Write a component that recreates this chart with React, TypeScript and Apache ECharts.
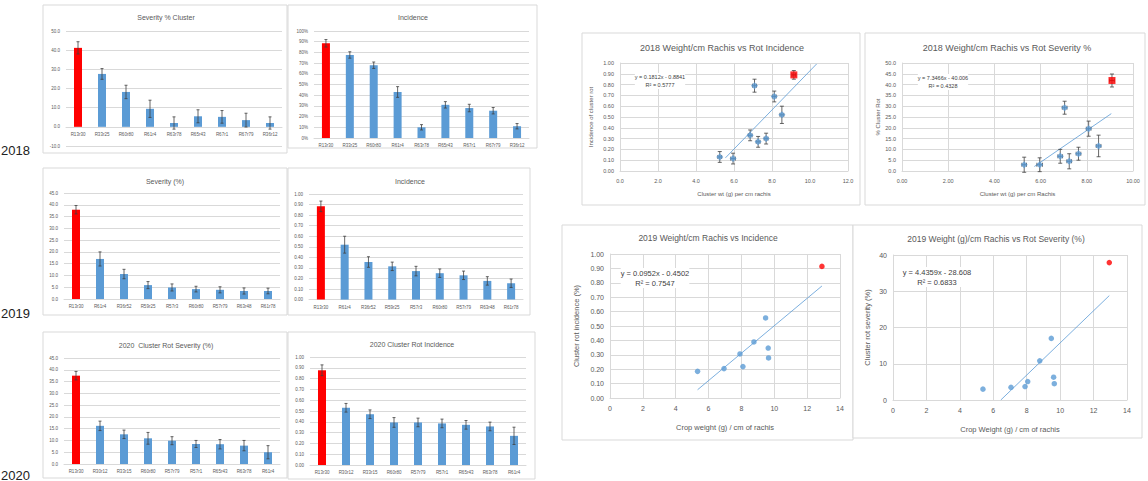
import React, { useEffect, useRef } from "react";
import * as echarts from "echarts";

// ---------- DATA ----------
const sev18Cats = ["R13r30", "R33r25", "R60r80", "R61r4", "R63r78", "R65r43", "R67r1", "R67r79", "R36r12"];
const sev18Vals = [41.2, 27.6, 18.2, 9.4, 2.0, 5.5, 5.2, 3.5, 2.0];
const sev18Errs = [3.2, 2.8, 3.5, 4.5, 3.2, 3.4, 3.3, 3.6, 3.2];

const inc18Cats = ["R13r30", "R33r25", "R60r80", "R61r4", "R63r78", "R65r43", "R67r1", "R67r79", "R36r12"];
const inc18Vals = [88.5, 77.6, 68, 43, 10, 31, 28, 25.5, 11];
const inc18Errs = [3.5, 3, 3, 5, 2.5, 3, 3.5, 3, 2.5];

const sev19Cats = ["R13r30", "R61r4", "R36r52", "R59r25", "R57r3", "R60r80", "R57r79", "R63r48", "R61r78"];
const sev19Vals = [37.9, 17.0, 10.6, 5.9, 4.9, 4.2, 3.9, 3.4, 3.4];
const sev19Errs = [1.8, 3.0, 2.0, 1.5, 1.5, 1.2, 1.3, 1.3, 1.2];

const inc19Cats = ["R13r30", "R61r4", "R36r52", "R59r25", "R57r3", "R60r80", "R57r79", "R63r48", "R61r78"];
const inc19Vals = [0.883, 0.52, 0.356, 0.315, 0.27, 0.25, 0.23, 0.177, 0.155];
const inc19Errs = [0.05, 0.08, 0.05, 0.04, 0.045, 0.04, 0.04, 0.04, 0.04];

const sev20Cats = ["R13r30", "R30r12", "R33r15", "R60r80", "R57r79", "R57r1", "R65r43", "R63r78", "R61r4"];
const sev20Vals = [37.5, 16.2, 12.6, 10.9, 9.9, 8.5, 8.4, 7.8, 5.0];
const sev20Errs = [1.8, 2.0, 1.8, 2.5, 1.7, 1.5, 2.0, 2.2, 2.8];

const inc20Cats = ["R13r30", "R30r12", "R33r15", "R60r80", "R57r79", "R57r1", "R65r43", "R63r78", "R61r4"];
const inc20Vals = [0.877, 0.53, 0.47, 0.394, 0.394, 0.385, 0.372, 0.357, 0.27];
const inc20Errs = [0.05, 0.04, 0.04, 0.045, 0.04, 0.04, 0.04, 0.04, 0.08];

const wt18X = [5.25, 5.95, 6.85, 7.08, 7.27, 7.69, 8.12, 8.52, 9.15];
const wt18XErr = [0.1, 0.12, 0.1, 0.1, 0.1, 0.1, 0.1, 0.1, 0.1];
const inc18Y = [0.13, 0.115, 0.33, 0.79, 0.27, 0.3, 0.69, 0.52, 0.89];
const inc18YErr = [0.05, 0.05, 0.05, 0.06, 0.05, 0.05, 0.05, 0.08, 0.04];
const wt18bX = [5.29, 5.96, 6.85, 7.04, 7.24, 7.64, 8.08, 8.51, 9.09];
const sev18Y = [2.9, 2.9, 6.8, 29.3, 4.5, 8.0, 19.6, 11.6, 41.9];
const sev18YErr = [3.5, 3.2, 3.2, 3.0, 3.5, 3.0, 3.5, 5.0, 3.0];

const wt19X = [5.33, 6.94, 7.91, 8.09, 8.76, 9.47, 9.63, 9.65, 12.9];
const inc19Y = [0.185, 0.204, 0.306, 0.218, 0.389, 0.556, 0.347, 0.278, 0.914];
const wt19bX = [5.38, 7.06, 7.9, 8.06, 8.78, 9.47, 9.61, 9.65, 12.94];
const sev19Y = [3.0, 3.5, 3.7, 5.1, 10.8, 17.0, 6.3, 4.5, 37.9];

// trendline coefficients [slope, intercept] and x-range
const trend18Inc = [0.1812, -0.8841];
const trend18IncRange = [5.55, 10.35];
const trend18Sev = [7.3466, -40.006];
const trend18SevRange = [5.73, 9.06];
const trend19Inc = [0.0952, -0.4502];
const trend19IncRange = [5.33, 12.9];
const trend19Sev = [4.4359, -28.608];
const trend19SevRange = [6.45, 12.94];

const eqTexts = [
  ["y = 0.1812x - 0.8841", "R² = 0.5777"],
  ["y = 7.3466x - 40.006", "R² = 0.4328"],
  ["y = 0.0952x - 0.4502", "R² = 0.7547"],
  ["y = 4.4359x - 28.608", "R² = 0.6833"],
];

const barTitles = ["Severity % Cluster", "Incidence", "Severity (%)", "Incidence", "2020  Cluster Rot Severity (%)", "2020 Cluster Rot Incidence"];
const scatterTitles = [
  "2018 Weight/cm Rachis vs Rot Incidence",
  "2018 Weight/cm Rachis vs Rot Severity %",
  "2019 Weight/cm Rachis vs Incidence",
  "2019 Weight (g)/cm Rachis vs Rot Severity (%)",
];
const years = ["2018", "2019", "2020"];

// ---------- STYLE ----------
const FONT = "Liberation Sans";
const BLUE = "#5b9bd5";
const RED = "#ff0000";
const GRID = "#d9d9d9";
const TXT = "#595959";

function errRender(horizontal: boolean, cap: number) {
  return (params: any, api: any) => {
    const x = api.value(0);
    const y = api.value(1);
    const e = api.value(2);
    let a: number[], b: number[];
    if (horizontal) {
      a = api.coord([x - e, y]);
      b = api.coord([x + e, y]);
    } else {
      a = api.coord([x, y + e]);
      b = api.coord([x, y - e]);
    }
    const st = { stroke: "#404040", lineWidth: 0.8 };
    const children: any[] = [{ type: "line", shape: { x1: a[0], y1: a[1], x2: b[0], y2: b[1] }, style: st }];
    if (horizontal) {
      children.push({ type: "line", shape: { x1: a[0], y1: a[1] - cap, x2: a[0], y2: a[1] + cap }, style: st });
      children.push({ type: "line", shape: { x1: b[0], y1: b[1] - cap, x2: b[0], y2: b[1] + cap }, style: st });
    } else {
      children.push({ type: "line", shape: { x1: a[0] - cap, y1: a[1], x2: a[0] + cap, y2: a[1] }, style: st });
      children.push({ type: "line", shape: { x1: b[0] - cap, y1: b[1], x2: b[0] + cap, y2: b[1] }, style: st });
    }
    return { type: "group", children };
  };
}

function buildOption() {
  const grid: any[] = [];
  const xAxis: any[] = [];
  const yAxis: any[] = [];
  const series: any[] = [];
  const graphic: any[] = [];

  const boxes = [
    [43, 5, 244, 148],
    [288, 5, 249, 143],
    [43, 168, 244, 147],
    [288, 168, 242, 147],
    [43, 332, 244, 146],
    [288, 332, 247, 147],
    [582, 33, 278, 172],
    [865, 33, 280, 172],
    [562, 225, 291, 215],
    [853, 225, 289, 213],
  ];
  boxes.forEach((b) =>
    graphic.push({
      type: "rect",
      z: -10,
      shape: { x: b[0], y: b[1], width: b[2], height: b[3] },
      style: { fill: "#fff", stroke: GRID, lineWidth: 1 },
    })
  );

  // ----- bar panels -----
  const bars = [
    { cats: sev18Cats, vals: sev18Vals, errs: sev18Errs, g: [66, 31, 216, 115], min: -10, max: 50, int: 10, fmt: (v: number) => v.toFixed(1) },
    { cats: inc18Cats, vals: inc18Vals, errs: inc18Errs, g: [314, 31, 215, 107], min: 0, max: 100, int: 10, fmt: (v: number) => Math.round(v) + "%" },
    { cats: sev19Cats, vals: sev19Vals, errs: sev19Errs, g: [64, 193, 216, 106], min: 0, max: 45, int: 5, fmt: (v: number) => v.toFixed(1) },
    { cats: inc19Cats, vals: inc19Vals, errs: inc19Errs, g: [309, 194, 214, 105.6], min: 0, max: 1, int: 0.1, fmt: (v: number) => v.toFixed(2) },
    { cats: sev20Cats, vals: sev20Vals, errs: sev20Errs, g: [64, 358, 216, 106], min: 0, max: 45, int: 5, fmt: (v: number) => v.toFixed(1) },
    { cats: inc20Cats, vals: inc20Vals, errs: inc20Errs, g: [310, 357, 216, 108], min: 0, max: 1, int: 0.1, fmt: (v: number) => v.toFixed(2) },
  ];
  const barTitlePos = [
    [166, 17],
    [413, 17],
    [165, 181],
    [410, 181],
    [166, 345],
    [412, 344],
  ];

  bars.forEach((p, i) => {
    const idx = grid.length;
    grid.push({ left: p.g[0], top: p.g[1], width: p.g[2], height: p.g[3], containLabel: false });
    // place the category axis on the zero line (pixel offset derived from the value range)
    const zeroOffset = p.min < 0 ? -(p.g[3] * (0 - p.min)) / (p.max - p.min) : 0;
    xAxis.push({
      gridIndex: idx,
      type: "category",
      data: p.cats,
      offset: zeroOffset,
      axisLine: { show: true, onZero: false, lineStyle: { color: GRID } },
      axisTick: { show: false },
      axisLabel: { interval: 0, fontSize: 4.5, color: TXT, margin: 5, fontFamily: FONT },
    });
    yAxis.push({
      gridIndex: idx,
      type: "value",
      min: p.min,
      max: p.max,
      interval: p.int,
      axisLine: { show: false },
      axisTick: { show: false },
      splitLine: { lineStyle: { color: GRID, width: 1 } },
      axisLabel: { fontSize: 4.5, color: TXT, margin: 6, fontFamily: FONT, formatter: p.fmt },
    });
    series.push({
      type: "bar",
      xAxisIndex: idx,
      yAxisIndex: idx,
      barWidth: 8,
      data: p.vals.map((v, j) => ({ value: v, itemStyle: { color: j === 0 ? RED : BLUE } })),
    });
    series.push({
      type: "custom",
      xAxisIndex: idx,
      yAxisIndex: idx,
      z: 5,
      renderItem: errRender(false, 1.5),
      encode: { x: 0, y: 1 },
      data: p.vals.map((v, j) => [j, v, p.errs[j]]),
    });
    graphic.push({
      type: "text",
      x: barTitlePos[i][0],
      y: barTitlePos[i][1],
      style: { text: barTitles[i], fontSize: 7, fontFamily: FONT, fill: TXT, textAlign: "center", textVerticalAlign: "middle" },
    });
  });

  // ----- scatter panels -----
  const scat = [
    {
      xs: wt18X, ys: inc18Y, yerr: inc18YErr, xerr: wt18XErr, trend: trend18Inc, range: trend18IncRange,
      g: [620, 63, 228, 108], xmax: 12, xint: 2, ymax: 1, yint: 0.1,
      xf: (v: number) => v.toFixed(1), yf: (v: number) => v.toFixed(2),
      xname: "Cluster wt (g) per cm rachis", yname: "Incidence of cluster rot",
      fs: 5.5, title: [722, 48], eq: [660, 73], sym: "diamond", redSym: "rect", size: 7, nameGapX: 20, nameGapY: 26,
    },
    {
      xs: wt18bX, ys: sev18Y, yerr: sev18YErr, xerr: wt18XErr, trend: trend18Sev, range: trend18SevRange,
      g: [902, 63, 231, 108], xmax: 10, xint: 2, ymax: 50, yint: 5,
      xf: (v: number) => v.toFixed(2), yf: (v: number) => v.toFixed(1),
      xname: "Cluster wt (g) per cm Rachis", yname: "% Cluster Rot",
      fs: 5.5, title: [1007, 48], eq: [943, 74], sym: "diamond", redSym: "rect", size: 7, nameGapX: 20, nameGapY: 21,
    },
    {
      xs: wt19X, ys: inc19Y, yerr: null, xerr: null, trend: trend19Inc, range: trend19IncRange,
      g: [610, 254, 230, 144], xmax: 14, xint: 2, ymax: 1, yint: 0.1,
      xf: (v: number) => String(v), yf: (v: number) => v.toFixed(2),
      xname: "Crop weight (g) / cm of rachis", yname: "Cluster rot incidence (%)",
      fs: 7, title: [708, 238], eq: [655, 268], sym: "circle", redSym: "circle", size: 5.5, nameGapX: 25, nameGapY: 30,
    },
    {
      xs: wt19bX, ys: sev19Y, yerr: null, xerr: null, trend: trend19Sev, range: trend19SevRange,
      g: [893, 255, 234, 145], xmax: 14, xint: 2, ymax: 40, yint: 10,
      xf: (v: number) => String(v), yf: (v: number) => String(v),
      xname: "Crop Weight (g) / cm of rachis", yname: "Cluster rot severity (%)",
      fs: 7, title: [996, 239], eq: [937, 267], sym: "circle", redSym: "circle", size: 5.5, nameGapX: 25, nameGapY: 22,
    },
  ];

  scat.forEach((p, i) => {
    const idx = grid.length;
    grid.push({ left: p.g[0], top: p.g[1], width: p.g[2], height: p.g[3], containLabel: false });
    xAxis.push({
      gridIndex: idx,
      type: "value",
      min: 0,
      max: p.xmax,
      interval: p.xint,
      name: p.xname,
      nameLocation: "middle",
      nameGap: p.nameGapX,
      nameTextStyle: { fontSize: p.fs + 0.5, color: TXT, fontFamily: FONT },
      axisLine: { show: true, lineStyle: { color: GRID } },
      axisTick: { show: false },
      splitLine: { show: true, lineStyle: { color: GRID } },
      axisLabel: { fontSize: p.fs, color: TXT, margin: 7, fontFamily: FONT, formatter: p.xf },
    });
    yAxis.push({
      gridIndex: idx,
      type: "value",
      min: 0,
      max: p.ymax,
      interval: p.yint,
      name: p.yname,
      nameLocation: "middle",
      nameGap: p.nameGapY,
      nameTextStyle: { fontSize: p.fs + 0.5, color: TXT, fontFamily: FONT },
      axisLine: { show: true, lineStyle: { color: GRID } },
      axisTick: { show: false },
      splitLine: { show: true, lineStyle: { color: GRID } },
      axisLabel: { fontSize: p.fs, color: TXT, margin: 6, fontFamily: FONT, formatter: p.yf },
    });
    series.push({
      type: "line",
      xAxisIndex: idx,
      yAxisIndex: idx,
      symbol: "none",
      silent: true,
      lineStyle: { color: BLUE, width: 0.8 },
      data: p.range.map((x) => [x, p.trend[0] * x + p.trend[1]]),
      z: 2,
    });
    if (p.yerr) {
      series.push({
        type: "custom",
        xAxisIndex: idx,
        yAxisIndex: idx,
        z: 3,
        renderItem: errRender(false, 2),
        encode: { x: 0, y: 1 },
        data: p.xs.map((x, j) => [x, p.ys[j], (p.yerr as number[])[j]]),
      });
    }
    if (p.xerr) {
      series.push({
        type: "custom",
        xAxisIndex: idx,
        yAxisIndex: idx,
        z: 3,
        renderItem: errRender(true, 2),
        encode: { x: 0, y: 1 },
        data: p.xs.map((x, j) => [x, p.ys[j], (p.xerr as number[])[j]]),
      });
    }
    series.push({
      type: "scatter",
      xAxisIndex: idx,
      yAxisIndex: idx,
      z: 4,
      symbol: p.sym,
      symbolSize: p.size,
      data: p.xs.map((x, j) => ({
        value: [x, p.ys[j]],
        symbol: j === p.xs.length - 1 ? p.redSym : p.sym,
        itemStyle: { color: j === p.xs.length - 1 ? RED : BLUE },
      })),
    });
    graphic.push({
      type: "text",
      x: p.title[0],
      y: p.title[1],
      style: { text: scatterTitles[i], fontSize: i < 2 ? 9 : 8.5, fontFamily: FONT, fill: TXT, textAlign: "center", textVerticalAlign: "middle" },
    });
    graphic.push({
      type: "text",
      x: p.eq[0],
      y: p.eq[1],
      z: 10,
      style: {
        text: eqTexts[i][0] + "\n" + eqTexts[i][1],
        fontSize: p.fs + (i < 2 ? 0 : 0.5),
        lineHeight: i < 2 ? 8 : 10,
        fontFamily: FONT,
        fill: "#404040",
        backgroundColor: "#fff",
        textAlign: "center",
        textVerticalAlign: "top",
      },
    });
  });

  // year labels
  const yearPos = [150, 313, 475];
  years.forEach((y, i) =>
    graphic.push({
      type: "text",
      x: 1,
      y: yearPos[i],
      style: { text: y, fontSize: 13, fontFamily: FONT, fill: "#222", textVerticalAlign: "middle" },
    })
  );

  return {
    animation: false,
    backgroundColor: "#fff",
    textStyle: { fontFamily: FONT },
    grid,
    xAxis,
    yAxis,
    series,
    graphic,
  };
}

export default function App() {
  const ref = useRef<HTMLDivElement>(null);
  useEffect(() => {
    document.body.style.margin = "0";
    if (!ref.current) return;
    const chart = echarts.init(ref.current, undefined, { renderer: "svg" });
    chart.setOption(buildOption() as any);
    return () => chart.dispose();
  }, []);
  return <div ref={ref} style={{ position: "fixed", left: 0, top: 0, width: 1148, height: 481 }} />;
}
